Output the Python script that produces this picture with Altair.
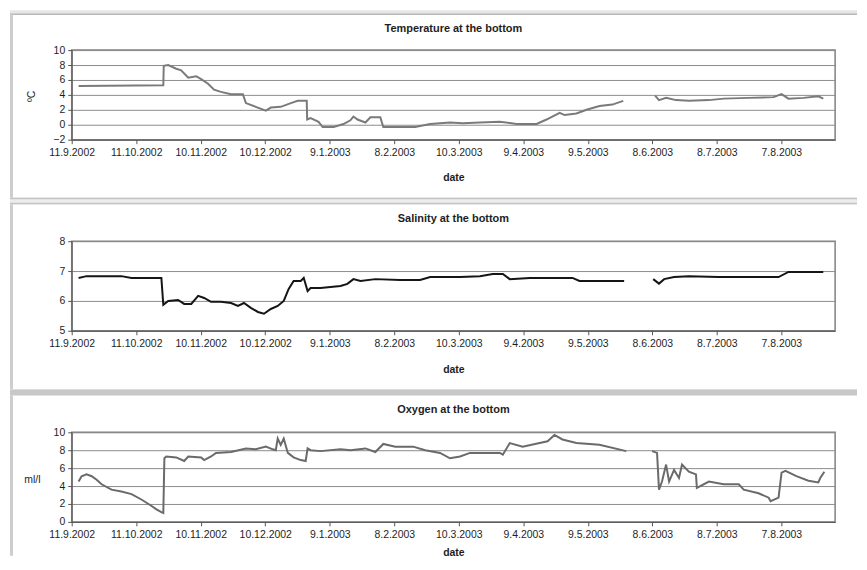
import altair as alt
import pandas as pd

START = "2002-09-11"
END = "2003-09-01"

tick_dates = ["2002-09-11", "2002-10-11", "2002-11-10", "2002-12-10", "2003-01-09",
              "2003-02-08", "2003-03-10", "2003-04-09", "2003-05-09", "2003-06-08",
              "2003-07-08", "2003-08-07"]

# ---- Temperature at the bottom (days after 11.9.2002, degC) ----
temp_days_a = [3.2, 42.6, 42.8, 44.9, 48.6, 50.9, 54.2, 57.9, 60.2, 63.4, 66.2, 69.4, 74.1,
               79.6, 81.0, 85.6, 90.3, 92.6, 97.2, 101.9, 105.1, 109.3, 109.5, 111.1, 114.8,
               116.7, 121.8, 126.4, 129.6, 131.0, 132.9, 136.6, 138.9, 143.5, 144.9, 159.7,
               166.7, 175.9, 181.9, 189.8, 199.1, 206.9, 216.2, 220.8, 226.9, 229.2, 234.7,
               239.4, 245.4, 251.4, 256.5]
temp_vals_a = [5.2, 5.3, 7.9, 8.0, 7.5, 7.3, 6.3, 6.5, 6.1, 5.5, 4.7, 4.4, 4.1,
               4.1, 2.9, 2.4, 1.9, 2.3, 2.4, 2.9, 3.2, 3.2, 0.7, 0.9, 0.4,
               -0.3, -0.3, 0.1, 0.6, 1.1, 0.7, 0.3, 1.0, 1.0, -0.3, -0.3,
               0.1, 0.3, 0.2, 0.3, 0.4, 0.1, 0.1, 0.7, 1.6, 1.3, 1.5,
               2.0, 2.5, 2.7, 3.2]
temp_days_b = [271.3, 273.1, 276.4, 281.0, 287.0, 296.3, 303.2, 314.8, 326.4, 330.1, 333.3,
               340.3, 347.2, 349.5]
temp_vals_b = [3.9, 3.3, 3.6, 3.3, 3.2, 3.3, 3.5, 3.6, 3.7, 4.1, 3.5,
               3.6, 3.8, 3.5]

# ---- Salinity at the bottom ----
sal_days_a = [3.2, 6.9, 23.1, 27.8, 41.7, 42.6, 44.9, 49.5, 52.3, 55.6, 58.8, 61.6, 64.8,
              69.4, 74.1, 77.3, 80.1, 83.3, 86.6, 89.4, 92.6, 95.8, 98.6, 100.9, 103.2,
              106.5, 107.9, 109.7, 111.1, 115.7, 125.0, 128.2, 131.0, 134.3, 141.2, 152.8,
              162.0, 166.7, 180.6, 189.8, 195.8, 200.5, 203.7, 213.0, 232.9, 236.1, 256.9]
sal_vals_a = [6.77, 6.83, 6.83, 6.77, 6.77, 5.87, 6.0, 6.03, 5.9, 5.9, 6.17, 6.1, 5.97,
              5.97, 5.93, 5.83, 5.93, 5.77, 5.63, 5.57, 5.73, 5.83, 6.0, 6.4, 6.67,
              6.67, 6.77, 6.33, 6.43, 6.43, 6.5, 6.57, 6.73, 6.67, 6.73, 6.7,
              6.7, 6.8, 6.8, 6.83, 6.9, 6.9, 6.73, 6.77, 6.77, 6.67, 6.67]
sal_days_b = [270.4, 273.1, 275.5, 280.1, 287.0, 300.9, 328.7, 333.3, 340.3, 349.5]
sal_vals_b = [6.73, 6.58, 6.73, 6.8, 6.83, 6.8, 6.8, 6.97, 6.97, 6.97]

# ---- Oxygen at the bottom (ml/l) ----
oxy_days_a = [3.2, 4.6, 6.9, 9.3, 11.6, 13.9, 18.5, 23.1, 27.8, 32.4, 37.0, 39.4, 41.7, 42.6,
              43.1, 44.0, 48.6, 52.3, 54.2, 60.2, 61.6, 64.8, 67.1, 74.1, 81.0, 85.6, 90.3,
              93.5, 94.9, 95.8, 97.2, 98.6, 100.5, 103.2, 106.5, 108.8, 109.7, 111.1, 115.7,
              125.0, 129.6, 136.6, 141.2, 144.9, 150.5, 158.8, 164.4, 171.3, 175.9, 180.6,
              185.2, 199.1, 200.5, 203.7, 209.7, 217.6, 221.3, 224.5, 228.2, 234.7, 245.4,
              257.9]
oxy_vals_a = [4.5, 5.1, 5.3, 5.1, 4.7, 4.2, 3.6, 3.4, 3.1, 2.5, 1.8, 1.4, 1.1, 1.0,
              7.1, 7.3, 7.2, 6.8, 7.3, 7.2, 6.9, 7.3, 7.7, 7.8, 8.2, 8.1, 8.4,
              8.1, 8.0, 9.3, 8.6, 9.3, 7.7, 7.2, 6.9, 6.8, 8.2, 8.0, 7.9,
              8.1, 8.0, 8.2, 7.8, 8.7, 8.4, 8.4, 8.0, 7.7, 7.1, 7.3,
              7.7, 7.7, 7.5, 8.8, 8.4, 8.8, 9.0, 9.7, 9.2, 8.8, 8.6,
              7.9]
oxy_days_b = [269.9, 272.2, 273.1, 274.5, 276.4, 277.8, 280.1, 282.4, 283.8, 287.0, 290.3,
              290.7, 296.3, 303.2, 310.2, 312.5, 319.4, 324.1, 325.0, 328.7, 330.1, 331.9,
              337.0, 342.6, 347.2, 348.1, 350.0]
oxy_vals_b = [7.9, 7.7, 3.6, 4.5, 6.4, 4.5, 5.8, 4.9, 6.4, 5.6, 5.3,
              3.8, 4.5, 4.2, 4.2, 3.6, 3.2, 2.7, 2.3, 2.7, 5.5, 5.7,
              5.1, 4.6, 4.4, 4.9, 5.6]

W, H = 767, 90
FONT = "Liberation Sans"
TXT = "#1e1e1e"
one = pd.DataFrame({"k": [0]})


def to_dt(s):
    y, m, d = (int(v) for v in s.split("-"))
    return alt.DateTime(year=y, month=m, date=d)


def series(days_a, vals_a, days_b, vals_b):
    t0 = pd.Timestamp(START)
    days = list(days_a) + list(days_b)
    return pd.DataFrame({
        "date": [t0 + pd.Timedelta(days=d) for d in days],
        "value": list(vals_a) + list(vals_b),
        "seg": ["a"] * len(days_a) + ["b"] * len(days_b),
    })


def rect(x1, x2, y1, y2, color):
    return alt.Chart(one).mark_rect(color=color, strokeWidth=0).encode(
        x=alt.value(x1), x2=alt.value(x2), y=alt.value(y1), y2=alt.value(y2))


def hline(y, x1, x2, color, w):
    return alt.Chart(one).mark_rule(color=color, strokeWidth=w).encode(
        x=alt.value(x1), x2=alt.value(x2), y=alt.value(y))


def panel(df, title, title_y, ydomain, yticks, yaxis_title, line_color, date_y, decor):
    xaxis = alt.Axis(values=[to_dt(d) for d in tick_dates], format="%-d.%-m.%Y",
                     labelAngle=0, labelFontSize=10.5, labelColor=TXT, labelPadding=4,
                     labelFlush=False, labelOverlap=False, tickSize=4, tickColor="#555555",
                     domainColor="#555555", grid=False, title="date", titleFontSize=10.5,
                     titleFontWeight="bold", titleColor=TXT, titleY=date_y,
                     titleBaseline="middle")
    yaxis = alt.Axis(values=yticks, labelFontSize=10.5, labelColor=TXT, labelPadding=3,
                     tickSize=4, tickColor="#555555", domainColor="#555555", grid=True,
                     gridColor="#8c8c8c", gridWidth=1, **yaxis_title)
    line = alt.Chart(df).mark_line(color=line_color, strokeWidth=2).encode(
        x=alt.X("date:T", scale=alt.Scale(domain=[to_dt(START), to_dt(END)], nice=False),
                axis=xaxis),
        y=alt.Y("value:Q", scale=alt.Scale(domain=ydomain, nice=False, zero=False),
                axis=yaxis),
        detail="seg:N",
    )
    ttl = alt.Chart(one).mark_text(fontSize=11, fontWeight="bold", color=TXT,
                                   baseline="middle", align="center").encode(
        x=alt.value(W / 2), y=alt.value(title_y), text=alt.value(title))
    return alt.layer(*decor, line, ttl).properties(width=W, height=H)


temp_df = series(temp_days_a, temp_vals_a, temp_days_b, temp_vals_b)
sal_df = series(sal_days_a, sal_vals_a, sal_days_b, sal_vals_b)
oxy_df = series(oxy_days_a, oxy_vals_a, oxy_days_b, oxy_vals_b)

decor1 = [
    rect(-62, 789, -40, -36, "#e6e6e6"),
    hline(-36, -62, 789, "#b8b8b8", 1.5),
    rect(-62, -59, -36, 149, "#cdcdcd"),
    rect(-62, 789, 148, 155, "#ececec"),
    hline(149, -62, 789, "#c4c4c4", 1.5),
    hline(154, -62, 789, "#c4c4c4", 1.5),
]
decor2 = [
    rect(-62, -59, -37, 149, "#cdcdcd"),
    rect(-62, 789, 149, 155, "#c8c8c8"),
    hline(149, -62, 789, "#dcdcdc", 1),
]
decor3 = [
    rect(-62, -59, -37, 124, "#cdcdcd"),
]

p1 = panel(temp_df, "Temperature at the bottom", -21, [-2, 10], [-2, 0, 2, 4, 6, 8, 10],
           dict(title="ºC", titleAngle=270, titleX=-40, titleY=46, titleFontSize=10.5,
                titleFontWeight="normal", titleColor=TXT, titleAlign="center",
                titleBaseline="middle"),
           "#7a7a7a", 38.5, decor1)
p2 = panel(sal_df, "Salinity at the bottom", -22, [5, 8], [5, 6, 7, 8],
           dict(title=None), "#151515", 39, decor2)
p3 = panel(oxy_df, "Oxygen at the bottom", -22, [0, 10], [0, 2, 4, 6, 8, 10],
           dict(title="ml/l", titleAngle=0, titleX=-40, titleY=47, titleFontSize=10.5,
                titleFontWeight="normal", titleColor=TXT, titleAlign="center",
                titleBaseline="middle"),
           "#6a6a6a", 31, decor3)

chart = alt.vconcat(p1, p2, p3, spacing=102, bounds="flush").properties(
    padding=0, background="white"
).configure(font=FONT).configure_view(stroke="#808080", strokeWidth=1.5)

chart.save("out.html", embed_options={"renderer": "svg", "actions": False})
